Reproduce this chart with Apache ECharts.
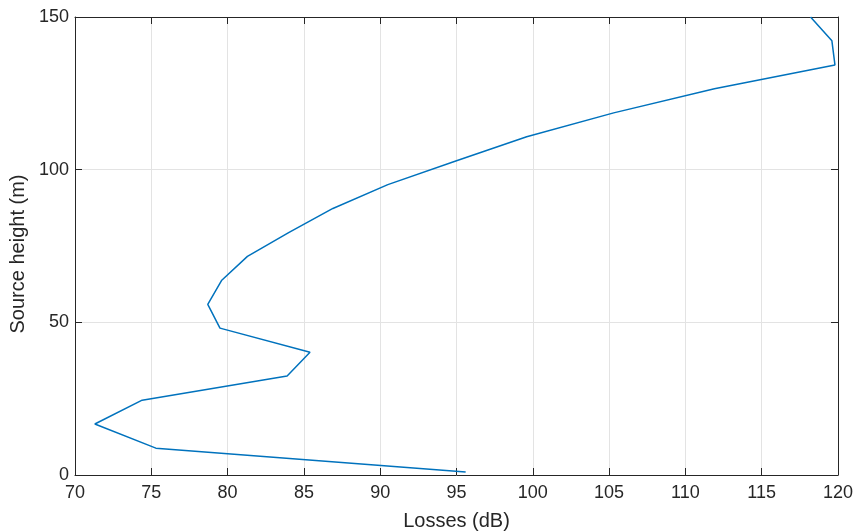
<!DOCTYPE html>
<html>
<head>
<meta charset="utf-8">
<script src="https://cdn.jsdelivr.net/npm/echarts@6/dist/echarts.min.js"></script>
<style>
html,body{margin:0;padding:0;background:#fff;}
#chart{width:862px;height:532px;}
</style>
</head>
<body>
<div id="chart"></div>
<script>
var losses = [95.6, 75.3, 71.3, 74.4, 83.9, 85.4, 79.5, 78.7, 79.6, 81.3, 84.0, 86.9, 90.5, 95.0, 99.6, 105.3, 111.9, 119.8, 119.6, 118.2];
var heights = [1, 8.8, 16.7, 24.5, 32.4, 40.2, 48.1, 55.9, 63.7, 71.6, 79.4, 87.3, 95.1, 102.9, 110.8, 118.6, 126.5, 134.3, 142.2, 150];
var xTitle = 'Losses (dB)';
var yTitle = 'Source height (m)';

var points = losses.map(function (v, i) { return [v, heights[i]]; });
var axisColor = '#262626';
var font = 'Liberation Sans, Arial, Helvetica, sans-serif';

var chart = echarts.init(document.getElementById('chart'), null, {renderer: 'canvas'});
var common = {
  axisLine: {show: true, onZero: false, lineStyle: {color: axisColor, width: 1}},
  axisTick: {show: true, inside: true, length: 7, lineStyle: {color: axisColor, width: 1}},
  splitLine: {show: false}
};
chart.setOption({
  animation: false,
  backgroundColor: '#ffffff',
  grid: {left: 75, right: 24, top: 17, bottom: 57, containLabel: false, outerBoundsMode: 'none'},
  xAxis: [
    Object.assign({}, common, {
      type: 'value', min: 70, max: 120, interval: 5, position: 'bottom',
      name: xTitle, nameLocation: 'middle', nameGap: 46,
      nameTextStyle: {fontSize: 20, color: axisColor, fontFamily: font, verticalAlign: 'middle'},
      axisLabel: {fontSize: 18, color: axisColor, fontFamily: font, margin: 9},
      splitLine: {show: true, lineStyle: {color: '#e3e3e3', width: 1}}
    }),
    Object.assign({}, common, {
      type: 'value', min: 70, max: 120, interval: 5, position: 'top',
      axisLabel: {show: false}
    })
  ],
  yAxis: [
    Object.assign({}, common, {
      type: 'value', min: 0, max: 150, interval: 50, position: 'left',
      name: yTitle, nameLocation: 'middle', nameGap: 50, nameRotate: 90,
      nameTextStyle: {fontSize: 20, color: axisColor, fontFamily: font, verticalAlign: 'middle', padding: [0, 16, 0, 0]},
      axisLabel: {fontSize: 18, color: axisColor, fontFamily: font, margin: 6},
      splitLine: {show: true, lineStyle: {color: '#e3e3e3', width: 1}}
    }),
    Object.assign({}, common, {
      type: 'value', min: 0, max: 150, interval: 50, position: 'right',
      axisLabel: {show: false}
    })
  ],
  series: [{
    type: 'line',
    data: points,
    showSymbol: false,
    symbol: 'none',
    clip: true,
    lineStyle: {color: '#0072BD', width: 1.5},
    itemStyle: {color: '#0072BD'}
  }]
});
</script>
</body>
</html>
